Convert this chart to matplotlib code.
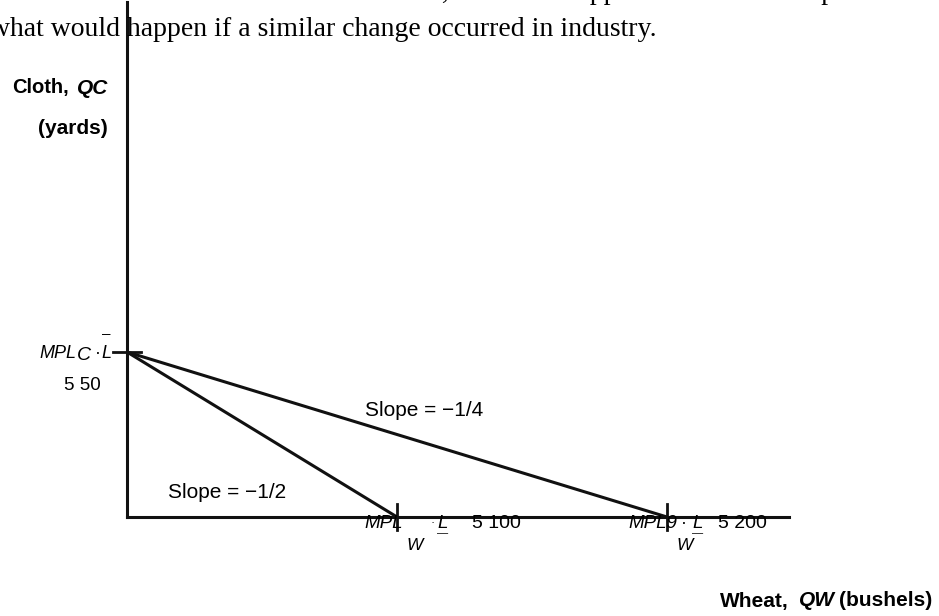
import matplotlib.pyplot as plt

# data: cloth intercept and the two wheat intercepts (old and new PPF)
cloth_max = 50
wheat_max = [100, 200]
slope_labels = ["Slope = \u22121/2", "Slope = \u22121/4"]
wheat_tick_labels = ["5 100", "5 200"]

W, H = 939, 616
fig = plt.figure(figsize=(W / 100, H / 100), dpi=100)

def fx(px):
    return px / W

def fy(py):
    return 1 - py / H

# axes placed so that origin sits at pixel (127, 517)
x0, y0, x1, y1 = 127, 517, 789, 2
ax = fig.add_axes([fx(x0), fy(y0), fx(x1 - x0), (y0 - y1) / H])
ax.set_xlim(0, (x1 - x0) / 2.7)
ax.set_ylim(0, (y0 - y1) / 3.3)
for s in ["top", "right"]:
    ax.spines[s].set_visible(False)
for s in ["left", "bottom"]:
    ax.spines[s].set_linewidth(2.2)
    ax.spines[s].set_color("#111111")
ax.set_xticks([])
ax.set_yticks([])
ax.patch.set_alpha(0)

# PPF lines
for wm in wheat_max:
    ax.plot([0, wm], [cloth_max, 0], color="#111111", lw=2.2, solid_capstyle="butt")

# little tick crosses at intercepts
ax.plot([-5, 5], [cloth_max, cloth_max], color="#111111", lw=2, clip_on=False)
for wm in wheat_max:
    ax.plot([wm, wm], [-4, 4], color="#111111", lw=2, clip_on=False)

sans = "Liberation Sans"
serif = "Liberation Serif"

# top paragraph text (cut off by the image edge)
fig.text(fx(255), fy(-7), "w the Home PPF, and what happens to the relative price of wheat? Describe",
         family=serif, fontsize=20, va="center", ha="left")
fig.text(fx(-10), fy(29), "what would happen if a similar change occurred in industry.",
         family=serif, fontsize=20, va="center", ha="left")

# y axis label
fig.text(fx(69), fy(88), "Cloth,", family=sans, weight="bold", fontsize=14.5, ha="right", va="center")
fig.text(fx(108), fy(88), "QC", family=sans, weight="bold", style="italic", fontsize=15, ha="right", va="center")
fig.text(fx(108), fy(128), "(yards)", family=sans, weight="bold", fontsize=15, ha="right", va="center")

# x axis label
fig.text(fx(932), fy(601), "(bushels)", family=sans, weight="bold", fontsize=15, ha="right", va="center")
fig.text(fx(799), fy(601), "QW", family=sans, weight="bold", style="italic", fontsize=15, ha="left", va="center")
fig.text(fx(789), fy(601), "Wheat,", family=sans, weight="bold", fontsize=15, ha="right", va="center")

# y intercept label
fig.text(fx(76), fy(353), "MPL", family=sans, style="italic", fontsize=13, ha="right", va="center")
fig.text(fx(77), fy(355), "C", family=sans, style="italic", fontsize=14, ha="left", va="center")
fig.text(fx(98), fy(353), "\u00b7", family=sans, fontsize=13, ha="center", va="center")
fig.text(fx(111), fy(353), "L", family=sans, style="italic", fontsize=13, ha="right", va="center")
fig.text(fx(111), fy(334), "\u2013", family=sans, fontsize=11, ha="right", va="center")
fig.text(fx(101), fy(385), "5 50", family=sans, fontsize=13.5, ha="right", va="center")

# slope labels
fig.text(fx(168), fy(493), slope_labels[0], family=sans, fontsize=15, ha="left", va="center")
fig.text(fx(365), fy(410), slope_labels[1], family=sans, fontsize=15, ha="left", va="center")

# x intercept labels
fig.text(fx(364), fy(523), "MPL", family=sans, style="italic", fontsize=13.5, ha="left", va="center")
fig.text(fx(406), fy(546), "W", family=sans, style="italic", fontsize=12.5, ha="left", va="center")
fig.text(fx(431), fy(523), "\u00b7", family=sans, fontsize=9, ha="left", va="center")
fig.text(fx(437), fy(523), "L", family=sans, style="italic", fontsize=13.5, ha="left", va="center")
fig.text(fx(437), fy(533), "\u2014", family=sans, fontsize=8, ha="left", va="center")
fig.text(fx(472), fy(523), wheat_tick_labels[0], family=sans, fontsize=14, ha="left", va="center")

fig.text(fx(628), fy(523), "MPL9", family=sans, style="italic", fontsize=13.5, ha="left", va="center")
fig.text(fx(677), fy(546), "W", family=sans, style="italic", fontsize=12.5, ha="left", va="center")
fig.text(fx(681), fy(523), "\u00b7", family=sans, fontsize=13, ha="left", va="center")
fig.text(fx(692), fy(523), "L", family=sans, style="italic", fontsize=13.5, ha="left", va="center")
fig.text(fx(692), fy(533), "\u2014", family=sans, fontsize=8, ha="left", va="center")
fig.text(fx(718), fy(523), wheat_tick_labels[1], family=sans, fontsize=14, ha="left", va="center")

fig.savefig("out.png", dpi=100)
